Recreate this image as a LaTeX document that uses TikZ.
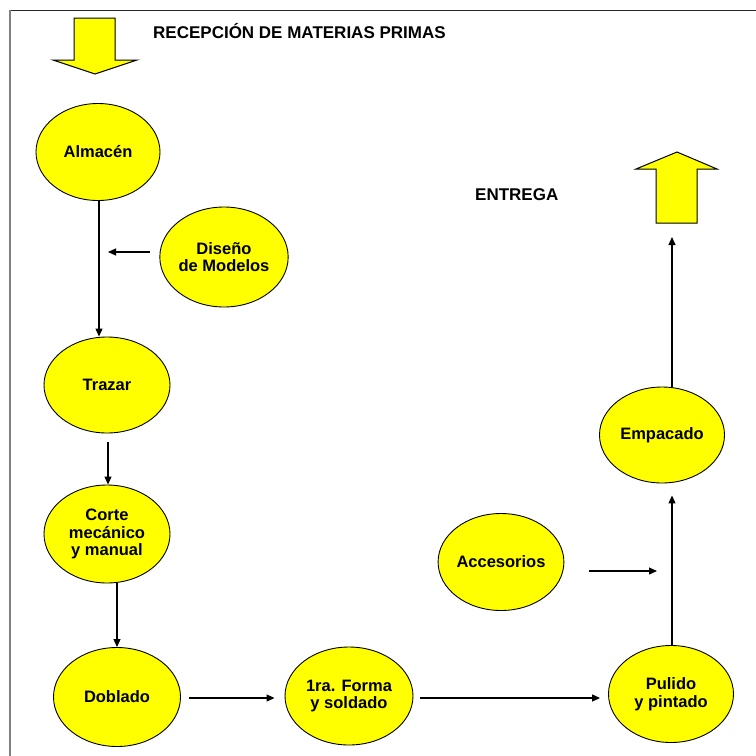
\documentclass[tikz,border=0pt]{standalone}
\usepackage{fontspec}
\setmainfont{Liberation Sans}
\usetikzlibrary{arrows.meta,shapes.geometric}
\definecolor{stepyellow}{RGB}{255,255,0}
\begin{document}
\begin{tikzpicture}[x=1pt,y=-1pt,
  stage/.style={ellipse,draw=black,line width=0.9pt,fill=stepyellow,
    minimum width=#1,inner sep=0pt,align=center,
    font=\fontsize{16.5}{17.5}\selectfont\bfseries},
  stage/.default=126,
  flow/.style={draw=black,line width=1.1pt,-{Triangle[length=8pt,width=7pt]}},
  bigarrow/.style={draw=black,line width=1pt,fill=stepyellow,line join=miter},
  caption/.style={anchor=west,inner sep=0pt,font=\fontsize{17}{18}\selectfont\bfseries}]
\useasboundingbox (0,0) rectangle (756,756);
\fill[white] (0,0) rectangle (756,756);
% page frame
\draw[black!85,line width=1.6pt] (9,10.5) -- (756,10.5);
\draw[black!50,line width=1.8pt] (10,10) -- (10,756);

% incoming and outgoing block arrows
\draw[bigarrow] (74,18) -- (115,18) -- (115,60) -- (137,60) -- (95,74)
  -- (53,60) -- (74,60) -- cycle;
\draw[bigarrow] (656,223) -- (656,169) -- (636,169) -- (677,152)
  -- (717,169) -- (697,169) -- (697,223) -- cycle;
\coordinate (deliver) at (672,223);

\node[caption] (title) at (153,31) {RECEPCIÓN DE MATERIAS PRIMAS};
\node[caption] (entrega) at (475,195) {ENTREGA};

% process stages
\node[stage=124,minimum height=97] (almacen) at (98,152) {Almacén};
\node[stage=125,minimum height=100] (diseno) at (224,257) {Diseño\\de Modelos};
\node[stage=126,minimum height=96] (trazar) at (107,385) {Trazar};
\node[stage=126,minimum height=98] (corte) at (107,534) {Corte\\mecánico\\y manual};
\node[stage=127,minimum height=99] (doblado) at (117,697) {Doblado};
\node[stage=128,minimum height=98] (forma) at (349,696) {1ra. Forma\\y soldado};
\node[stage=125,minimum height=97] (pulido) at (671,694) {Pulido\\y pintado};
\node[stage=125,minimum height=96] (empacado) at (662,435) {Empacado};
\node[stage=125,minimum height=97] (accesorios) at (501,562) {Accesorios};

% helper points on the connector runs
\coordinate (leftrun) at (99,252);
\coordinate (cutrun) at (108,460);
\coordinate (bottomrun) at (300,698);
\coordinate (rightrun) at (672,571);

% connectors
\draw[flow] (almacen.south -| leftrun) -- (trazar.north -| leftrun);
\draw[flow,shorten <=9pt,shorten >=9pt] (diseno.west |- leftrun) -- (leftrun);
\draw[flow,shorten <=9pt] (trazar.south -| cutrun) -- (corte.north -| cutrun);
\draw[flow] (doblado.north |- corte.south) -- (doblado.north);
\draw[flow,shorten <=8pt,shorten >=10pt] (doblado.east |- bottomrun) -- (forma.west |- bottomrun);
\draw[flow,shorten <=7pt,shorten >=8pt] (forma.east |- bottomrun) -- (pulido.west |- bottomrun);
\draw[flow,shorten >=12pt] (pulido.north -| rightrun) -- (empacado.south -| rightrun);
\draw[flow,shorten <=25pt,shorten >=15pt] (accesorios.east |- rightrun) -- (rightrun);
\draw[flow,shorten >=14pt] (empacado.north -| rightrun) -- (deliver);
\end{tikzpicture}
\end{document}
